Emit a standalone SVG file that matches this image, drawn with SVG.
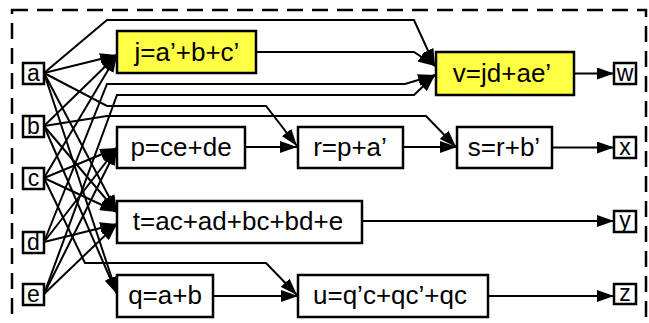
<svg xmlns="http://www.w3.org/2000/svg" width="649" height="323" viewBox="0 0 649 323">
<style>
.box{fill:#fff;stroke:#000;stroke-width:2.5}
.hl{fill:#ffff44;stroke:#000;stroke-width:2.5}
.lbl{font-family:"Liberation Sans",Arial,sans-serif;font-size:26px;fill:#000;text-anchor:middle}
.sm{font-family:"Liberation Sans",Arial,sans-serif;font-size:23px;fill:#000;text-anchor:middle}
.e{fill:none;stroke:#000;stroke-width:2;marker-end:url(#ah)}
</style>
<defs>
<marker id="ah" markerUnits="userSpaceOnUse" markerWidth="18" markerHeight="12" refX="17" refY="6" orient="auto">
<path d="M0,0 L17,6 L0,12 z" fill="#000"/>
</marker>
</defs>
<rect x="12" y="10" width="634" height="318" fill="none" stroke="#000" stroke-width="2.5" stroke-dasharray="16,9"/>
<g id="connectors">
<polyline class="e" points="44,73 117,55"/>
<polyline class="e" points="44,126 117,55"/>
<polyline class="e" points="44,178 117,55"/>
<polyline class="e" points="44,73 107,20 414,20 435,66"/>
<polyline class="e" points="256,52 414,52 435,66"/>
<polyline class="e" points="44,242 107,84 405,84 435,75"/>
<polyline class="e" points="44,294 117,95 414,95 435,75"/>
<polyline class="e" points="44,73 107,106 266,106 297,146"/>
<polyline class="e" points="245,147 297,147"/>
<polyline class="e" points="44,126 107,116 426,116 456,147"/>
<polyline class="e" points="403,147 457,147"/>
<polyline class="e" points="44,178 117,148"/>
<polyline class="e" points="44,242 117,148"/>
<polyline class="e" points="44,294 117,148"/>
<polyline class="e" points="44,73 117,212"/>
<polyline class="e" points="44,126 117,212"/>
<polyline class="e" points="44,178 117,212"/>
<polyline class="e" points="44,242 117,224"/>
<polyline class="e" points="44,294 117,224"/>
<polyline class="e" points="44,73 117,294"/>
<polyline class="e" points="44,126 117,294"/>
<polyline class="e" points="44,178 85,263 266,263 297,295"/>
<polyline class="e" points="213,296 298,296"/>
<polyline class="e" points="574,73.5 614,73.5"/>
<polyline class="e" points="552,147.5 614,147.5"/>
<polyline class="e" points="362,221 614,221"/>
<polyline class="e" points="488,296 614,296"/>
</g>
<g id="a"><rect class="box" x="23" y="63" width="21" height="21"/><text class="sm" x="33.5" y="81">a</text></g>
<g id="b"><rect class="box" x="23" y="116" width="21" height="21"/><text class="sm" x="33.5" y="134">b</text></g>
<g id="c"><rect class="box" x="23" y="168" width="21" height="21"/><text class="sm" x="33.5" y="186">c</text></g>
<g id="d"><rect class="box" x="23" y="232" width="21" height="21"/><text class="sm" x="33.5" y="250">d</text></g>
<g id="e"><rect class="box" x="23" y="284" width="21" height="21"/><text class="sm" x="33.5" y="302">e</text></g>
<g id="j"><rect class="hl" x="117" y="31" width="139" height="42"/><text class="lbl" x="187" y="61">j=a’+b+c’</text></g>
<g id="v"><rect class="hl" x="436" y="52" width="138" height="43"/><text class="lbl" x="502" y="82">v=jd+ae’</text></g>
<g id="p"><rect class="box" x="117" y="127" width="128" height="41"/><text class="lbl" x="181" y="156">p=ce+de</text></g>
<g id="r"><rect class="box" x="298" y="127" width="105" height="41"/><text class="lbl" x="350" y="156">r=p+a’</text></g>
<g id="s"><rect class="box" x="457" y="127" width="95" height="41"/><text class="lbl" x="504" y="156">s=r+b’</text></g>
<g id="t"><rect class="box" x="117" y="201" width="245" height="42"/><text class="lbl" x="238" y="230">t=ac+ad+bc+bd+e</text></g>
<g id="q"><rect class="box" x="117" y="275" width="96" height="42"/><text class="lbl" x="165" y="304">q=a+b</text></g>
<g id="u"><rect class="box" x="298" y="275" width="190" height="42"/><text class="lbl" x="390" y="304">u=q’c+qc’+qc</text></g>
<g id="w"><rect class="box" x="614" y="63" width="22" height="21"/><text class="sm" x="625" y="81">w</text></g>
<g id="x"><rect class="box" x="614" y="137" width="22" height="21"/><text class="sm" x="625" y="155">x</text></g>
<g id="y"><rect class="box" x="614" y="211" width="22" height="21"/><text class="sm" x="625" y="228">y</text></g>
<g id="z"><rect class="box" x="614" y="284" width="22" height="20"/><text class="sm" x="625" y="301">z</text></g>
</svg>
